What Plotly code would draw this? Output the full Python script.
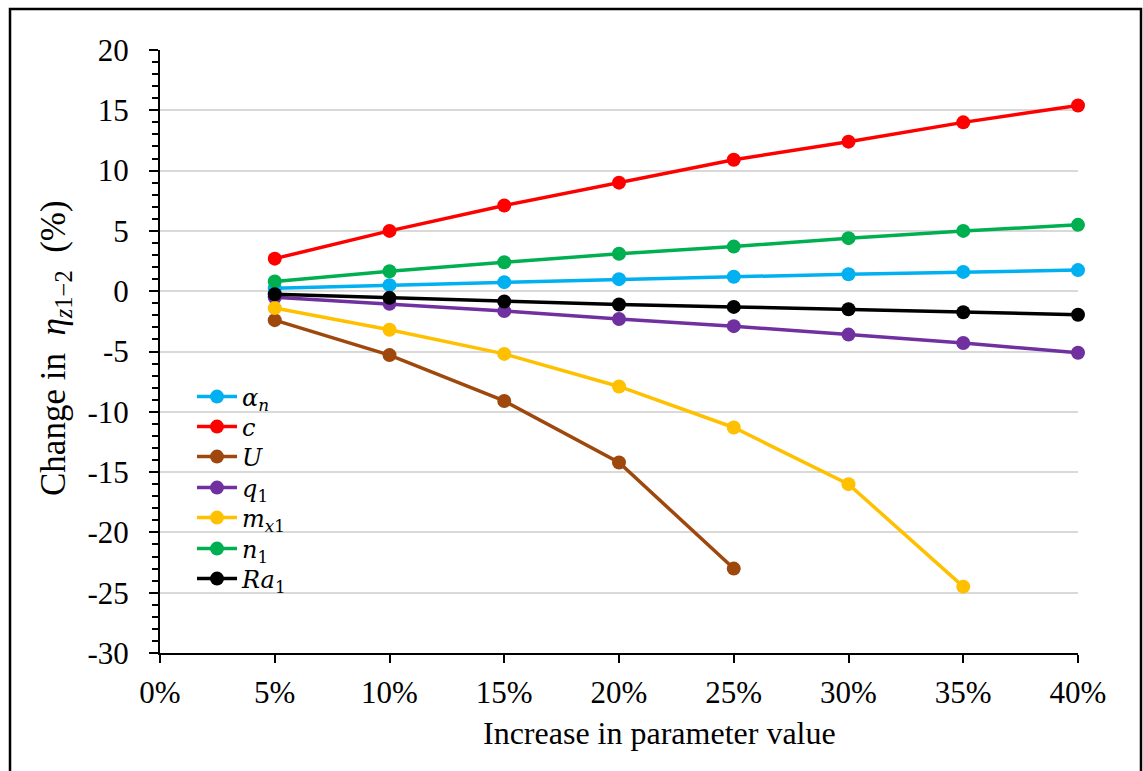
import plotly.graph_objects as go

x_vals = [0.05, 0.10, 0.15, 0.20, 0.25, 0.30, 0.35, 0.40]

alpha_n = [0.25, 0.5, 0.75, 1.0, 1.2, 1.4, 1.6, 1.75]
c_vals = [2.7, 5.0, 7.1, 9.0, 10.9, 12.4, 14.0, 15.4]
U_vals = [-2.4, -5.3, -9.1, -14.2, -23.0]
q1_vals = [-0.5, -1.05, -1.65, -2.3, -2.9, -3.6, -4.3, -5.1]
mx1_vals = [-1.4, -3.2, -5.2, -7.9, -11.3, -16.0, -24.5]
n1_vals = [0.8, 1.65, 2.4, 3.1, 3.7, 4.4, 5.0, 5.5]
Ra1_vals = [-0.25, -0.55, -0.85, -1.1, -1.3, -1.5, -1.75, -1.95]

series = [
    ("<i>α<sub>n</sub></i>", alpha_n, "#00B0F0"),
    ("<i>c</i>", c_vals, "#FF0000"),
    ("<i>U</i>", U_vals, "#9E480E"),
    ("<i>q</i><sub>1</sub>", q1_vals, "#7030A0"),
    ("<i>m<sub>x</sub></i><sub>1</sub>", mx1_vals, "#FFC000"),
    ("<i>n</i><sub>1</sub>", n1_vals, "#00B050"),
    ("<i>Ra</i><sub>1</sub>", Ra1_vals, "#000000"),
]

x_ticks = [0, 0.05, 0.10, 0.15, 0.20, 0.25, 0.30, 0.35, 0.40]
x_tick_text = ["0%", "5%", "10%", "15%", "20%", "25%", "30%", "35%", "40%"]
y_ticks = [20, 15, 10, 5, 0, -5, -10, -15, -20, -25, -30]
y_tick_text = ["20", "15", "10", "5", "0", "-5", "-10", "-15", "-20", "-25", "-30"]

serif = "Liberation Serif"
math_font = "DejaVu Serif"
L, R, T, B = 160, 65, 50, 118
W, H = 1143, 771
pw, ph = W - L - R, H - T - B


def px_x(p):
    return (p - L) / pw


def px_y(p):
    return (H - B - p) / ph


legend_rows = [397, 427, 457, 488, 518, 549, 579]

fig = go.Figure()
legend_layouts = {}
for i, (name, vals, color) in enumerate(series):
    lg = "legend" if i == 0 else f"legend{i + 1}"
    fig.add_trace(go.Scatter(
        x=x_vals[:len(vals)], y=vals, name=name, mode="lines+markers",
        line=dict(color=color, width=3.5),
        marker=dict(color=color, size=14),
        cliponaxis=False, legend=lg,
    ))
    legend_layouts[lg] = dict(
        x=px_x(192), y=px_y(legend_rows[i]), xanchor="left", yanchor="middle",
        font=dict(family=math_font, size=24, color="black"),
        bgcolor="rgba(255,255,255,0)", itemwidth=40,
    )

fig.update_layout(
    width=W, height=H,
    margin=dict(l=L, r=R, t=T, b=B),
    paper_bgcolor="white", plot_bgcolor="white",
    font=dict(family=serif, size=31, color="black"),
    showlegend=True,
    xaxis=dict(
        range=[0, 0.4], tickvals=x_ticks, ticktext=x_tick_text,
        showgrid=False, zeroline=False,
        showline=True, linecolor="black", linewidth=1.5,
        ticks="outside", ticklen=8, tickwidth=1.5, tickcolor="black",
        ticklabelstandoff=3,
        tickfont=dict(family=serif, size=31, color="black"),
    ),
    yaxis=dict(
        range=[-30, 20], tickvals=y_ticks, ticktext=y_tick_text,
        showgrid=True, gridcolor="#D9D9D9", gridwidth=1.5,
        zeroline=False,
        showline=True, linecolor="black", linewidth=2,
        ticks="outside", ticklen=9, tickwidth=2, tickcolor="black",
        ticklabelstandoff=14,
        tickfont=dict(family=serif, size=31, color="black"),
        minor=dict(dtick=1, ticks="outside", ticklen=6, tickwidth=2,
                   tickcolor="black", showgrid=False),
    ),
    annotations=[
        dict(text="Change in\u00a0\u00a0<i>η</i><sub><i>z</i>1−2</sub>\u00a0\u00a0(%)",
             xref="paper", yref="paper", x=px_x(55), y=px_y(348),
             xanchor="center", yanchor="middle", textangle=-90, showarrow=False,
             font=dict(family=serif, size=35, color="black")),
        dict(text="Increase in parameter value",
             xref="paper", yref="paper", x=px_x(659), y=px_y(733),
             xanchor="center", yanchor="middle", showarrow=False,
             font=dict(family=serif, size=32, color="black")),
    ],
    shapes=[
        dict(type="rect", xref="paper", yref="paper",
             x0=px_x(10), x1=px_x(1141), y0=px_y(790), y1=px_y(9),
             line=dict(color="black", width=2.5), fillcolor="rgba(0,0,0,0)",
             layer="above"),
    ],
)
fig.update_layout(**legend_layouts)

fig.write_html("out.html")
